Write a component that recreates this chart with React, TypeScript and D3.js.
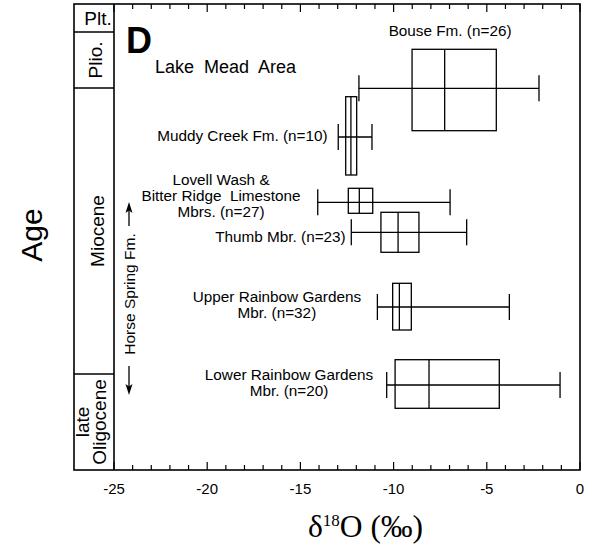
import React from "react";
import { scaleLinear, range } from "d3";

// formations, top (youngest) to bottom
const units = ["Bouse", "Muddy Creek", "Lovell Wash", "Thumb", "Upper Rainbow", "Lower Rainbow"];
const whiskerLow = [-11.86, -12.97, -14.07, -12.27, -10.87, -10.37];
const boxLow = [-9.01, -12.57, -12.43, -10.68, -10.05, -9.92];
const medians = [-7.26, -12.29, -11.84, -9.76, -9.69, -8.1];
const boxHigh = [-4.49, -11.98, -11.12, -8.64, -9.05, -4.33];
const whiskerHigh = [-2.2, -11.16, -6.97, -6.08, -3.79, -1.07];
// stratigraphic position (relative age units, 0 = top of column)
const ageTop = [45.3, 92.7, 184.3, 208.3, 279.3, 355.7];
const ageBottom = [126.7, 171, 209.3, 248.3, 326, 404.3];
const ageMid = [84.3, 133, 198.3, 228.3, 303, 381];

const labelLines = [
  ["Bouse Fm. (n=26)"],
  ["Muddy Creek Fm. (n=10)"],
  ["Lovell Wash &", "Bitter Ridge  Limestone", "Mbrs. (n=27)"],
  ["Thumb Mbr. (n=23)"],
  ["Upper Rainbow Gardens", "Mbr. (n=32)"],
  ["Lower Rainbow Gardens", "Mbr. (n=20)"],
];
// label anchor in data units: [d18O centre, age position of first baseline]
const labelX = [-6.97, -18.11, -19.26, -16.07, -16.26, -15.61];
const labelY = [32, 137, 181, 237.7, 297.7, 376];

const epochs = ["Plt.", "Plio.", "Miocene", "late|Oligocene"];
const epochTop = [0, 28, 84, 370];
const epochBottom = [28, 84, 370, 466];

const xTickLabels = ["-25", "-20", "-15", "-10", "-5", "0"];

const sans = "'Liberation Sans', Arial, Helvetica, sans-serif";

export default function App() {
  const width = 589;
  const height = 544;
  const colLeft = 74;
  const x = scaleLinear().domain([-25, 0]).range([114, 580]);
  const y = scaleLinear().domain([0, 466]).range([4, 470]);
  const top = y(0);
  const bottom = y(466);
  const cap = 13;
  const minor = range(-25, 1, 1);
  const sw = 1.3;

  return (
    <div style={{ position: "absolute", left: 0, top: 0 }}>
      <svg width={width} height={height} fontFamily={sans}>
        <rect x={0} y={0} width={width} height={height} fill="white" />

        {/* frame */}
        <rect x={colLeft} y={top} width={x(0) - colLeft} height={bottom - top} fill="none" stroke="black" strokeWidth={1.6} />
        <line x1={x(-25)} x2={x(-25)} y1={top} y2={bottom} stroke="black" strokeWidth={1.6} />

        {/* epoch column */}
        {epochs.map((e, i) => {
          const yc = (y(epochTop[i]) + y(epochBottom[i])) / 2;
          return (
            <g key={e}>
              {i > 0 && (
                <line x1={colLeft} x2={x(-25)} y1={y(epochTop[i])} y2={y(epochTop[i])} stroke="black" strokeWidth={1.4} />
              )}
              {i === 0 ? (
                <text x={98} y={25} fontSize={19} textAnchor="middle">{e}</text>
              ) : i === 3 ? (
                <>
                  <text transform={`translate(89,${yc}) rotate(-90)`} fontSize={19} textAnchor="middle">{e.split("|")[0]}</text>
                  <text transform={`translate(106,${yc}) rotate(-90)`} fontSize={19} textAnchor="middle">{e.split("|")[1]}</text>
                </>
              ) : (
                <text transform={`translate(${i === 1 ? 102 : 103.5},${yc}) rotate(-90)`} fontSize={19} textAnchor="middle">{e}</text>
              )}
            </g>
          );
        })}

        {/* ticks */}
        {minor.map((t) => {
          const len = t % 5 === 0 ? 8 : 5;
          return (
            <g key={t}>
              <line x1={x(t)} x2={x(t)} y1={bottom} y2={bottom - len} stroke="black" strokeWidth={1.2} />
              <line x1={x(t)} x2={x(t)} y1={top} y2={top + len} stroke="black" strokeWidth={1.2} />
            </g>
          );
        })}
        {x.ticks(5).map((t, i) => (
          <text key={t} x={x(t)} y={494} fontSize={15} textAnchor="middle">{xTickLabels[i]}</text>
        ))}

        {/* boxes */}
        {units.map((u, i) => (
          <g key={u} stroke="black" strokeWidth={sw} fill="none">
            <line x1={x(whiskerLow[i])} x2={x(whiskerHigh[i])} y1={y(ageMid[i])} y2={y(ageMid[i])} />
            <line x1={x(whiskerLow[i])} x2={x(whiskerLow[i])} y1={y(ageMid[i]) - cap} y2={y(ageMid[i]) + cap} />
            <line x1={x(whiskerHigh[i])} x2={x(whiskerHigh[i])} y1={y(ageMid[i]) - cap} y2={y(ageMid[i]) + cap} />
            <rect x={x(boxLow[i])} y={y(ageTop[i])} width={x(boxHigh[i]) - x(boxLow[i])} height={y(ageBottom[i]) - y(ageTop[i])} />
            <line x1={x(medians[i])} x2={x(medians[i])} y1={y(ageTop[i])} y2={y(ageBottom[i])} />
          </g>
        ))}

        {/* labels */}
        {labelLines.map((lines, i) => (
          <text key={i} fontSize={15.3} textAnchor="middle" style={{ whiteSpace: "pre" }}>
            {lines.map((l, j) => (
              <tspan key={j} x={x(labelX[i])} y={y(labelY[i]) + j * 16.2}>{l}</tspan>
            ))}
          </text>
        ))}

        <text x={126} y={53} fontSize={36} fontWeight="bold">D</text>
        <text x={155} y={73} fontSize={18} style={{ whiteSpace: "pre" }}>Lake  Mead  Area</text>

        {/* Horse Spring Fm. */}
        <text transform="translate(135,294) rotate(-90)" fontSize={15.5} textAnchor="middle">Horse Spring Fm.</text>
        <g stroke="black" strokeWidth={1.3}>
          <line x1={129} x2={129} y1={226} y2={208} />
          <line x1={129} x2={129} y1={366} y2={390} />
        </g>
        <path d="M129,202 L125.5,213 L129,210.5 L132.5,213 Z" fill="black" />
        <path d="M129,395 L125.5,384 L129,386.5 L132.5,384 Z" fill="black" />

        {/* axis titles */}
        <text transform="translate(42,235) rotate(-90)" fontSize={30} textAnchor="middle">Age</text>
        <text x={308} y={537} fontSize={31.5} fontFamily="'Liberation Serif', 'Times New Roman', serif">
          δ<tspan fontSize={17} dy={-11}>18</tspan><tspan dy={11}>O (‰)</tspan>
        </text>
      </svg>
    </div>
  );
}
